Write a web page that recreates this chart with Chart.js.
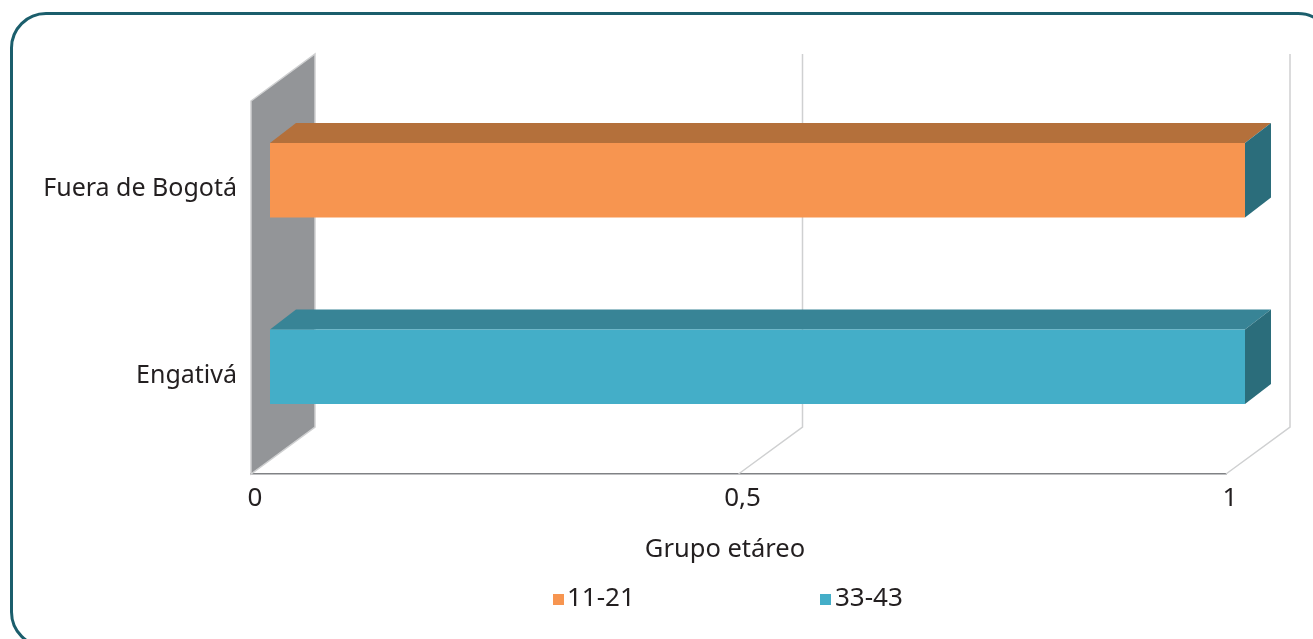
<!DOCTYPE html>
<html lang="es">
<head>
<meta charset="utf-8">
<title>Grupo etáreo</title>
<style>
  html, body { margin: 0; padding: 0; background: #fff; overflow: hidden; }
  #frame { position: relative; width: 1313px; height: 639px; overflow: hidden; }
  #marco {
    position: absolute; left: 10px; top: 12px; width: 1318px; height: 630px;
    border: 3px solid #1b5e6c; border-radius: 36px;
  }
  #chart { position: absolute; left: 0; top: 0; }
</style>
</head>
<body>
<div id="frame">
  <div id="marco"></div>
  <canvas id="chart" width="1313" height="639"></canvas>
</div>
<script src="https://cdn.jsdelivr.net/npm/chart.js@4"></script>
<script>
'use strict';

// ── data
const categorias = ['Fuera de Bogotá', 'Engativá'];
const serie1121 = [1, null];
const serie3343 = [null, 1];
const ticksX = [0, 0.5, 1];
const FUENTE = '"Noto Sans"';
const TEXTO = '#231f20';

// ── fake 3D depth (Excel style)
const PARED = { dx: 64, dy: 47 };   // depth of the walls
const BARRA = { dx: 26, dy: 20 };   // depth of a bar
const DESPLAZA = { x: 19, y: 14 };  // bars sit a bit inside the box

const caja3d = {
  id: 'caja3d',
  beforeDatasetsDraw(chart) {
    const { ctx, chartArea: a, scales: { x } } = chart;
    ctx.save();
    // back grid lines + floor diagonals
    ctx.strokeStyle = '#cfd0d1';
    ctx.lineWidth = 1.5;
    ticksX.forEach((t, i) => {
      if (i === 0) return;
      const px = x.getPixelForValue(t);
      ctx.beginPath();
      ctx.moveTo(px, a.bottom);
      ctx.lineTo(px + PARED.dx, a.bottom - PARED.dy);
      ctx.lineTo(px + PARED.dx, a.top - PARED.dy);
      ctx.stroke();
    });
    // left wall
    ctx.beginPath();
    ctx.moveTo(a.left, a.top);
    ctx.lineTo(a.left + PARED.dx, a.top - PARED.dy);
    ctx.lineTo(a.left + PARED.dx, a.bottom - PARED.dy);
    ctx.lineTo(a.left, a.bottom);
    ctx.closePath();
    ctx.fillStyle = '#939598';
    ctx.fill();
    ctx.stroke();
    ctx.restore();

    // bar sides, then the library draws the front faces on top
    ctx.save();
    ctx.translate(DESPLAZA.x, -DESPLAZA.y);
    chart.data.datasets.forEach((ds, i) => {
      chart.getDatasetMeta(i).data.forEach((bar, j) => {
        if (ds.data[j] === null) return;
        const { x: fin, y, base, height } = bar.getProps(['x', 'y', 'base', 'height'], true);
        const arriba = y - height / 2;
        const abajo = y + height / 2;
        ctx.fillStyle = ds.colorTecho;
        ctx.beginPath();
        ctx.moveTo(base, arriba);
        ctx.lineTo(base + BARRA.dx, arriba - BARRA.dy);
        ctx.lineTo(fin + BARRA.dx, arriba - BARRA.dy);
        ctx.lineTo(fin, arriba);
        ctx.closePath();
        ctx.fill();
        ctx.fillStyle = ds.colorLado;
        ctx.beginPath();
        ctx.moveTo(fin, arriba);
        ctx.lineTo(fin + BARRA.dx, arriba - BARRA.dy);
        ctx.lineTo(fin + BARRA.dx, abajo - BARRA.dy);
        ctx.lineTo(fin, abajo);
        ctx.closePath();
        ctx.fill();
      });
    });
  },
  afterDatasetsDraw(chart) {
    chart.ctx.restore();
  },
  afterDraw(chart) {
    const { ctx } = chart;
    ctx.save();
    ctx.fillStyle = TEXTO;
    ctx.textBaseline = 'alphabetic';
    // axis title, sits left of the plot centre in the original
    ctx.font = `25.5px ${FUENTE}`;
    ctx.textAlign = 'center';
    ctx.fillText('Grupo etáreo', 725, 557);
    // legend
    ctx.font = `26px ${FUENTE}`;
    ctx.textAlign = 'left';
    const leyenda = [[553, 567], [820, 835]];
    chart.data.datasets.forEach((ds, i) => {
      ctx.fillStyle = ds.backgroundColor;
      ctx.fillRect(leyenda[i][0], 594, 11, 11);
      ctx.fillStyle = TEXTO;
      ctx.fillText(ds.label, leyenda[i][1], 606);
    });
    ctx.restore();
  },
};

new Chart(document.getElementById('chart').getContext('2d'), {
  type: 'bar',
  data: {
    labels: categorias,
    datasets: [
      { label: '11-21', data: serie1121, backgroundColor: '#f79550', colorTecho: '#b4703b', colorLado: '#2b6d7b', clip: false },
      { label: '33-43', data: serie3343, backgroundColor: '#44aec8', colorTecho: '#388496', colorLado: '#2b6d7b', clip: false },
    ],
  },
  options: {
    indexAxis: 'y',
    responsive: false,
    animation: false,
    layout: { padding: { top: 101, right: 87 } },
    datasets: { bar: { barPercentage: 0.4, categoryPercentage: 1, borderWidth: 0 } },
    plugins: { legend: { display: false }, title: { display: false }, tooltip: { enabled: false } },
    scales: {
      x: {
        min: 0,
        max: 1,
        stacked: true,
        afterFit: (s) => { s.height = 165; },
        afterBuildTicks: (s) => { s.ticks = ticksX.map((v) => ({ value: v })); },
        grid: { display: false },
        border: { display: true, color: '#808285', width: 1.5 },
        ticks: {
          color: TEXTO,
          font: { family: 'Noto Sans', size: 26 },
          padding: 1,
          labelOffset: 4,
          maxRotation: 0,
          callback: (v) => String(v).replace('.', ','),
        },
      },
      y: {
        stacked: true,
        afterFit: (s) => { s.width = 251; },
        grid: { display: false },
        border: { display: false },
        ticks: {
          color: TEXTO,
          font: { family: 'Noto Sans', size: 25 },
          padding: 6,
          labelOffset: -5,
        },
      },
    },
  },
  plugins: [caja3d],
});
</script>
</body>
</html>
